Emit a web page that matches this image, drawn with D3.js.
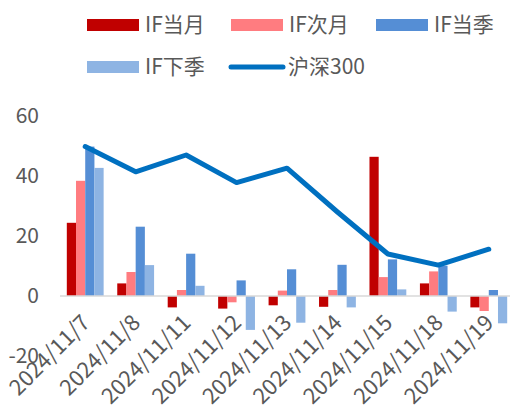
<!DOCTYPE html>
<html>
<head>
<meta charset="utf-8">
<script src="https://cdn.jsdelivr.net/npm/d3@7"></script>
<style>
  body { margin: 0; background: #fff; }
  text { font-family: "Noto Sans CJK SC", "Noto Sans", sans-serif; fill: #595959; }
</style>
</head>
<body>
<div id="chart"></div>
<script>
(function () {

  // data
  const dates = ["2024/11/7", "2024/11/8", "2024/11/11", "2024/11/12", "2024/11/13",
    "2024/11/14", "2024/11/15", "2024/11/18", "2024/11/19"];
  const seriesNames = ["IF当月", "IF次月", "IF当季", "IF下季"];
  const ifCurrentMonth = [24.4, 4.2, -3.8, -4.2, -3.1, -3.6, 46.4, 4.2, -3.8];
  const ifNextMonth = [38.4, 8.0, 2.0, -2.1, 1.8, 2.0, 6.3, 8.2, -5.0];
  const ifCurrentQuarter = [49.8, 23.1, 14.1, 5.2, 8.9, 10.4, 12.2, 10.1, 2.0];
  const ifNextQuarter = [42.7, 10.3, 3.4, -11.3, -8.9, -3.8, 2.2, -5.2, -9.1];
  const hs300 = [49.8, 41.4, 47.0, 37.8, 42.6, 28.0, 14.0, 10.3, 15.6];
  const lineName = "沪深300";
  const yTicks = [-20, 0, 20, 40, 60];

  const colors = ["#C00000", "#FF7C80", "#558ED5", "#8EB4E3"];
  const lineColor = "#0070C0";

  const svg_width = 510, svg_height = 412;
  const margin = { left: 60, right: -4, top: 116, bottom: 56 };

  const svg = d3.select("#chart").append("svg")
    .attr("width", svg_width)
    .attr("height", svg_height);

  const x = d3.scaleBand()
    .domain(dates)
    .range([margin.left, svg_width - margin.right])
    .paddingInner(0.27)
    .paddingOuter(0.135);
  const x1 = d3.scaleBand()
    .domain(seriesNames)
    .range([0, x.bandwidth()]);
  const y = d3.scaleLinear()
    .domain([-20, 60])
    .range([356, 116]);

  // y labels
  svg.append("g")
    .selectAll("text")
    .data(yTicks)
    .enter().append("text")
    .attr("x", 39)
    .attr("y", d => y(d))
    .attr("dy", "0.35em")
    .attr("text-anchor", "end")
    .style("font-size", "21px")
    .text(d => d);

  // bars
  const table = dates.map((d, i) => ({
    date: d,
    values: [ifCurrentMonth[i], ifNextMonth[i], ifCurrentQuarter[i], ifNextQuarter[i]]
  }));

  const groups = svg.append("g")
    .selectAll("g")
    .data(table)
    .enter().append("g")
    .attr("transform", d => "translate(" + x(d.date) + ",0)");

  groups.selectAll("rect")
    .data(d => d.values.map((v, k) => ({ name: seriesNames[k], value: v, k: k })))
    .enter().append("rect")
    .attr("x", d => x1(d.name))
    .attr("width", x1.bandwidth())
    .attr("y", d => y(Math.max(0, d.value)))
    .attr("height", d => Math.abs(y(d.value) - y(0)))
    .attr("fill", d => colors[d.k]);

  // zero line
  svg.append("line")
    .attr("x1", margin.left)
    .attr("x2", svg_width)
    .attr("y1", y(0))
    .attr("y2", y(0))
    .attr("stroke", "#d9d9d9")
    .attr("stroke-width", 1.5);

  // hs300 line
  const line = d3.line()
    .x((d, i) => x(dates[i]) + x.bandwidth() / 2)
    .y(d => y(d));
  svg.append("path")
    .datum(hs300)
    .attr("d", line)
    .attr("fill", "none")
    .attr("stroke", lineColor)
    .attr("stroke-width", 5)
    .attr("stroke-linejoin", "round")
    .attr("stroke-linecap", "round");

  // x labels, rotated
  svg.append("g")
    .selectAll("text")
    .data(dates)
    .enter().append("text")
    .attr("transform", d => "translate(" + (x(d) + x.bandwidth() / 2 + 6) + ",324) rotate(-45)")
    .attr("text-anchor", "end")
    .style("font-size", "22px")
    .text(d => d);

  // legend
  const legendItems = [
    { name: seriesNames[0], color: colors[0], x: 87, y: 25 },
    { name: seriesNames[1], color: colors[1], x: 231, y: 25 },
    { name: seriesNames[2], color: colors[2], x: 376, y: 25 },
    { name: seriesNames[3], color: colors[3], x: 87, y: 67 }
  ];
  const legend = svg.append("g");
  legendItems.forEach(function (d) {
    legend.append("rect")
      .attr("x", d.x).attr("y", d.y - 6)
      .attr("width", 52).attr("height", 12)
      .attr("fill", d.color);
    legend.append("text")
      .attr("x", d.x + 58).attr("y", d.y)
      .attr("dy", "0.35em")
      .style("font-size", "21px")
      .text(d.name);
  });
  legend.append("line")
    .attr("x1", 231).attr("x2", 283)
    .attr("y1", 67).attr("y2", 67)
    .attr("stroke", lineColor)
    .attr("stroke-width", 5)
    .attr("stroke-linecap", "round");
  legend.append("text")
    .attr("x", 288).attr("y", 67)
    .attr("dy", "0.35em")
    .style("font-size", "21px")
    .text(lineName);

})();
</script>
</body>
</html>
